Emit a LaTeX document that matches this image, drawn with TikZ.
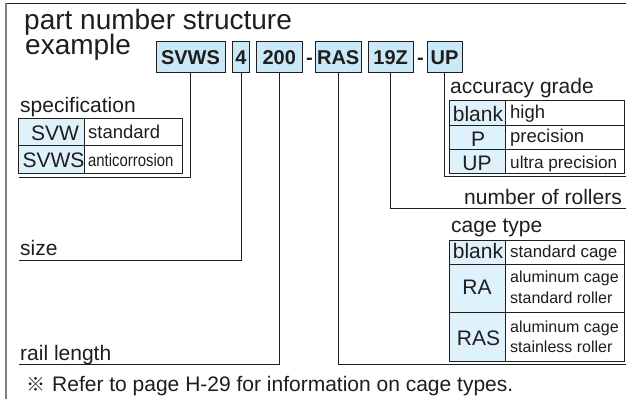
\documentclass[tikz,border=0pt]{standalone}
\usepackage{fontspec}
\setmainfont{Liberation Sans}
\newfontfamily\cjkf{Noto Sans CJK JP}
\definecolor{boxblue}{HTML}{C9E9F9}
\definecolor{cellblue}{HTML}{DFF1FB}
\definecolor{ink}{HTML}{1E1E1E}
\newcommand{\fs}[1]{\fontsize{#1}{#1}\selectfont}
\tikzset{
  partbox/.style={draw=ink,line width=.8pt,fill=boxblue,inner sep=0pt,minimum height=31pt,text height=14.3pt,text depth=0pt,font=\fs{20}\bfseries,text=ink},
  lab/.style={anchor=base west,inner sep=0pt,text=ink,font=\fs{21}},
  ctr/.style={anchor=base,inner sep=0pt,text=ink,font=\fs{21}},
  val/.style={anchor=base west,inner sep=0pt,text=ink,font=\fs{18.5}},
  small/.style={anchor=base west,inner sep=0pt,text=ink,font=\fs{16}},
  rlab/.style={anchor=base east,inner sep=0pt,text=ink,font=\fs{21}},
  leader/.style={draw=ink,line width=.8pt},
  grid/.style={draw=ink,line width=.8pt},
}
\begin{document}
\begin{tikzpicture}[x=1pt,y=-1pt]
\useasboundingbox (0,0) rectangle (626,399);
\fill[white] (0,0) rectangle (626,399);
% frame
\draw[draw=ink,line width=.8pt] (626,3.5) -- (6,3.5);
\draw[draw=gray,line width=1.2pt] (6,3) -- (6,399);
% title
\node[anchor=base west,inner sep=0pt,text=ink,font=\fs{28}] (t1) at (24,29) {part number structure};
\node[anchor=base west,inner sep=0pt,text=ink,font=\fs{28}] (t2) at (25,54) {example};
% part boxes
\node[partbox,minimum width=69pt] (svws) at (190.5,57) {SVWS};
\node[partbox,minimum width=17pt] (four) at (241,57) {4};
\node[partbox,minimum width=45.5pt] (twoh) at (279.2,57) {200};
\node[partbox,minimum width=46.5pt] (ras) at (338.2,57) {RAS};
\node[partbox,minimum width=45.5pt] (nineteen) at (390.7,57) {19Z};
\node[partbox,minimum width=35pt] (up) at (444.5,57) {UP};
\node[anchor=base,inner sep=0pt,text=ink,font=\fs{20}\bfseries] (d1) at (309.5,64.5) {-};
\node[anchor=base,inner sep=0pt,text=ink,font=\fs{20}\bfseries] (d2) at (420.5,64.5) {-};
% leader end points
\coordinate (e1) at (18.5,177);
\coordinate (e2) at (18.5,260.5);
\coordinate (e3) at (18.5,364.8);
\coordinate (e4) at (626,364.8);
\coordinate (e5) at (626,208);
\coordinate (e6) at (626,176.5);
\draw[leader] (svws.south) |- (e1);
\draw[leader] (four.south) |- (e2);
\draw[leader] (twoh.south) |- (e3);
\draw[leader] (ras.south) |- (e4);
\draw[leader] (nineteen.south) |- (e5);
\draw[leader] (up.south) |- (e6);
% specification table
\node[lab] (spec) at (20,112) {specification};
\fill[cellblue] (18.5,118) rectangle (84.5,173.5);
\draw[grid] (18.5,118) rectangle (182,173.5);
\draw[grid] (18.5,145.5) -- (182,145.5);
\draw[grid] (84.5,118) -- (84.5,173.5);
\node[ctr] (s1) at (55,140.7) {SVW};
\node[ctr] (s2) at (53.5,167.7) {SVWS};
\node[val] (s3) at (88,138) {standard};
\node[val,font=\fs{17.5}] (s4) at (88,166) {\scalebox{.85}[1]{anticorrosion}};
% labels
\node[lab] (size) at (20,255.7) {size};
\node[lab] (rail) at (20,360) {rail length};
\node[anchor=base west,inner sep=0pt,text=ink,font=\fs{19}] (fnmark) at (26,391.7) {{\cjkf\fs{19}※}};
\node[anchor=base west,inner sep=0pt,text=ink,font=\fs{21}] (fn) at (52,391.7) {Refer to page H-29 for information on cage types.};
% accuracy table
\node[lab] (acc) at (450,93.7) {accuracy grade};
\fill[cellblue] (449.7,100.5) rectangle (505,173.5);
\draw[grid] (449.7,100.5) rectangle (624.5,173.5);
\draw[grid] (449.7,125) -- (624.5,125);
\draw[grid] (449.7,149) -- (624.5,149);
\draw[grid] (505,100.5) -- (505,173.5);
\node[ctr] (a1) at (478,121) {blank};
\node[ctr] (a2) at (478,146) {P};
\node[ctr] (a3) at (477,170) {UP};
\node[val] (a4) at (510,118) {high};
\node[val] (a5) at (510,142.7) {precision};
\node[val,font=\fs{17.2}] (a6) at (510,168) {ultra precision};
% rollers
\node[rlab] (rol) at (622,204) {number of rollers};
% cage table
\node[lab] (cage) at (451,232) {cage type};
\fill[cellblue] (449.7,240) rectangle (505,361);
\draw[grid] (449.7,240) rectangle (624.5,361);
\draw[grid] (449.7,264.5) -- (624.5,264.5);
\draw[grid] (449.7,312.5) -- (624.5,312.5);
\draw[grid] (505,240) -- (505,361);
\node[ctr] (c1) at (478,258) {blank};
\node[ctr] (c2) at (477,294) {RA};
\node[ctr] (c3) at (478.5,345) {RAS};
\node[small,font=\fs{16.9}] (c4) at (510,257) {standard cage};
\node[small] (c5) at (510,282) {aluminum cage};
\node[small] (c6) at (510,303) {standard roller};
\node[small] (c7) at (510,332) {aluminum cage};
\node[small] (c8) at (510,352) {stainless roller};
\end{tikzpicture}
\end{document}
